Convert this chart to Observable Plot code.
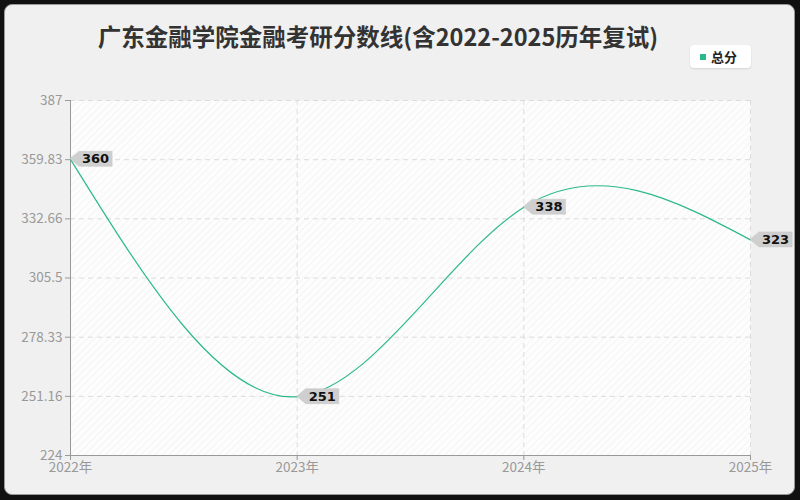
<!DOCTYPE html>
<html><head><meta charset="utf-8">
<script src="https://cdn.jsdelivr.net/npm/d3@7"></script>
<script src="https://cdn.jsdelivr.net/npm/@observablehq/plot@0.6"></script>
<style>
html,body{margin:0;padding:0;background:#111;width:800px;height:500px;overflow:hidden;font-family:"Noto Sans CJK SC","Noto Sans",sans-serif;}
#card{position:absolute;left:4px;top:4px;width:789px;height:489px;background:#f0f0f0;border:1.5px solid #9a9a9a;border-radius:8px;}
#title{position:absolute;left:0;top:19px;width:756px;text-align:center;font-size:23.5px;font-weight:bold;color:#333;white-space:nowrap;}
#legend{position:absolute;left:690px;top:45px;width:61px;height:23px;background:#fff;border-radius:4px;box-shadow:0 1px 2px rgba(0,0,0,0.12);font-size:13px;font-weight:bold;color:#222;}
#legend .sw{position:absolute;left:10px;top:9px;width:6px;height:6px;}
#legend .lt{position:absolute;left:21px;top:2px;}
#chart{position:absolute;left:0;top:0;}
</style></head>
<body>
<div id="card"></div>
<div id="title"></div>
<div id="legend"><span class="sw"></span><span class="lt"></span></div>
<div id="chart"></div>
<script>
const titleText = "广东金融学院金融考研分数线(含2022-2025历年复试)";
const seriesName = "总分";
const years = [2022, 2023, 2024, 2025];
const scores = [360, 251, 338, 323];
const yTickValues = [224, 251.16, 278.33, 305.5, 332.66, 359.83, 387];
const yTickLabels = ["224", "251.16", "278.33", "305.5", "332.66", "359.83", "387"];
const xTickLabels = ["2022年", "2023年", "2024年", "2025年"];
const lineColor = "#2bb98a";

document.getElementById("title").textContent = titleText;
document.querySelector("#legend .lt").textContent = seriesName;
document.querySelector("#legend .sw").style.background = lineColor;

const data = years.map((y, i) => ({year: y, score: scores[i]}));

const plot = Plot.plot({
  width: 800, height: 500,
  marginLeft: 70, marginRight: 50, marginTop: 100, marginBottom: 45,
  style: {background: "transparent", fontFamily: "'Noto Sans CJK SC','Noto Sans',sans-serif", fontSize: "13.5px", color: "#999"},
  x: {domain: [2022, 2025], ticks: years, tickFormat: (d) => xTickLabels[years.indexOf(d)], tickSize: 5, tickPadding: 2, label: null},
  y: {domain: [224, 387], ticks: yTickValues, tickFormat: (d) => yTickLabels[yTickValues.indexOf(d)], tickSize: 5, tickPadding: 3, label: null},
  marks: [
    Plot.frame({fill: "#fdfdfd", stroke: null}),
    Plot.frame({fill: "url(#hatch)", stroke: null}),
    Plot.gridX(years, {stroke: "#dcdcdc", strokeOpacity: 1, strokeDasharray: "5,4"}),
    Plot.gridY(yTickValues, {stroke: "#dcdcdc", strokeOpacity: 1, strokeDasharray: "5,4"}),
    Plot.axisX(years, {tickFormat: (d) => xTickLabels[years.indexOf(d)], tickSize: 5, tickPadding: 2, stroke: "#999", fill: "#999", fontSize: 13.5, label: null}),
    Plot.axisY(yTickValues, {tickFormat: (d) => yTickLabels[yTickValues.indexOf(d)], tickSize: 5, tickPadding: 3, stroke: "#999", fill: "#999", fontSize: 13.5, label: null}),
    Plot.ruleX([2022], {stroke: "#999"}),
    Plot.ruleY([224], {stroke: "#999"}),
    Plot.line(data, {x: "year", y: "score", stroke: lineColor, strokeWidth: 1.2, curve: "natural"})
  ]
});

document.getElementById("chart").appendChild(plot);

const svg = d3.select(plot);
const defs = svg.insert("defs", ":first-child");
const pat = defs.append("pattern").attr("id", "hatch").attr("patternUnits", "userSpaceOnUse")
  .attr("width", 5).attr("height", 5).attr("patternTransform", "rotate(45)");
pat.append("line").attr("x1", 0).attr("y1", 0).attr("x2", 0).attr("y2", 5).attr("stroke", "#eeeeee").attr("stroke-width", 1.2);

const sx = plot.scale("x"), sy = plot.scale("y");
const lg = svg.append("g").attr("text-anchor", "start");
data.forEach(d => {
  const px = sx.apply(d.year), py = sy.apply(d.score);
  const g = lg.append("g").attr("transform", `translate(${px},${py})`);
  const path = g.append("path").attr("fill", "#cfcfcf").attr("stroke", "#c4c4c4").attr("stroke-width", 0.5);
  const t = g.append("text").text(String(d.score)).attr("x", 12).attr("y", 0).attr("dy", "0.36em")
    .attr("text-anchor", "start")
    .attr("font-size", 13).attr("font-weight", "bold").attr("fill", "#111")
    .attr("font-family", "'DejaVu Sans','Noto Sans',sans-serif");
  let w = t.node().getComputedTextLength();
  if (!w) w = 25;
  path.attr("d", `M0,0 L9,-7.5 H${12 + w + 3} V7.5 H9 Z`);
});
</script>
</body></html>
